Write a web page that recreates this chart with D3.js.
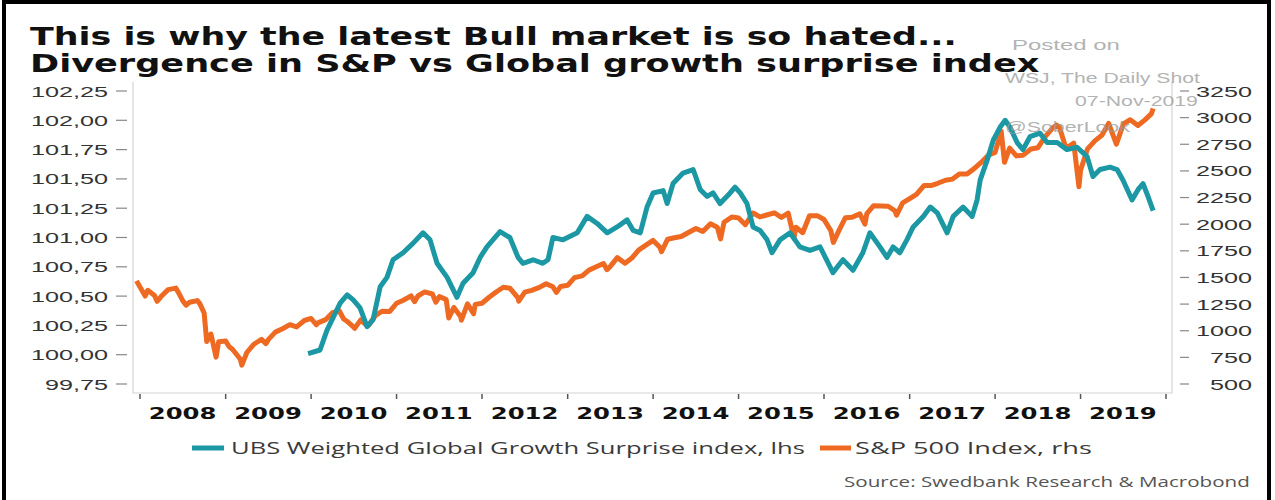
<!DOCTYPE html>
<html>
<head>
<meta charset="utf-8">
<script src="https://cdn.jsdelivr.net/npm/d3@7"></script>
<style>
  body { margin: 0; background: #fff; }
  svg { display: block; }
</style>
</head>
<body>
<svg id="chart" width="1275" height="500"></svg>
<script>
// ---- data ----
const years = [2008, 2009, 2010, 2011, 2012, 2013, 2014, 2015, 2016, 2017, 2018, 2019];
const leftTicks = [99.75, 100, 100.25, 100.5, 100.75, 101, 101.25, 101.5, 101.75, 102, 102.25];
const rightTicks = [500, 750, 1000, 1250, 1500, 1750, 2000, 2250, 2500, 2750, 3000, 3250];

// UBS weighted global growth surprise index (lhs), decimal years
const tealYears = [2009.965, 2010.105, 2010.187, 2010.339, 2010.421, 2010.491, 2010.573, 2010.655, 2010.725, 2010.807,
  2010.889, 2010.959, 2011.076, 2011.193, 2011.310, 2011.392, 2011.474, 2011.591, 2011.708, 2011.778,
  2011.895, 2011.977, 2012.058, 2012.211, 2012.327, 2012.421, 2012.480, 2012.596, 2012.713, 2012.772,
  2012.830, 2012.947, 2013.111, 2013.228, 2013.345, 2013.462, 2013.579, 2013.696, 2013.766, 2013.848,
  2013.930, 2014.000, 2014.117, 2014.164, 2014.234, 2014.351, 2014.468, 2014.550, 2014.632, 2014.702,
  2014.784, 2014.901, 2014.959, 2015.018, 2015.099, 2015.170, 2015.251, 2015.333, 2015.392, 2015.485,
  2015.602, 2015.719, 2015.836, 2015.953, 2016.070, 2016.105, 2016.222, 2016.339, 2016.456, 2016.538,
  2016.655, 2016.737, 2016.807, 2016.889, 2016.971, 2017.041, 2017.158, 2017.240, 2017.322, 2017.439,
  2017.509, 2017.626, 2017.731, 2017.789, 2017.825, 2017.906, 2017.977, 2018.058, 2018.117, 2018.175,
  2018.257, 2018.327, 2018.409, 2018.526, 2018.608, 2018.725, 2018.842, 2018.959, 2019.076, 2019.146,
  2019.228, 2019.345, 2019.427, 2019.497, 2019.602, 2019.673, 2019.731, 2019.789, 2019.848];
const tealValues = [100.01, 100.04, 100.21, 100.44, 100.51, 100.47, 100.40, 100.24, 100.30, 100.58,
  100.66, 100.81, 100.87, 100.95, 101.04, 100.98, 100.78, 100.66, 100.49, 100.61,
  100.70, 100.83, 100.92, 101.05, 101.00, 100.83, 100.78, 100.81, 100.78, 100.81,
  101.00, 100.98, 101.04, 101.18, 101.12, 101.04, 101.09, 101.15, 101.06, 101.04,
  101.26, 101.38, 101.40, 101.29, 101.46, 101.55, 101.58, 101.41, 101.35, 101.38,
  101.29, 101.38, 101.43, 101.38, 101.29, 101.09, 101.06, 100.98, 100.87, 100.98,
  101.04, 100.92, 100.89, 100.92, 100.75, 100.70, 100.81, 100.72, 100.87, 101.04,
  100.92, 100.83, 100.92, 100.87, 100.98, 101.09, 101.18, 101.26, 101.21, 101.04,
  101.18, 101.26, 101.18, 101.32, 101.49, 101.66, 101.83, 101.94, 102.00, 101.94,
  101.81, 101.75, 101.86, 101.89, 101.81, 101.81, 101.75, 101.77, 101.69, 101.52,
  101.58, 101.60, 101.58, 101.49, 101.32, 101.41, 101.46, 101.35, 101.23];

// S&P 500 index (rhs), decimal years
const spxYears = [2007.96, 2008.06, 2008.09, 2008.17, 2008.20, 2008.25, 2008.33, 2008.42, 2008.45, 2008.50,
  2008.54, 2008.58, 2008.67, 2008.70, 2008.75, 2008.78, 2008.83, 2008.89, 2008.92, 2009.00,
  2009.04, 2009.08, 2009.17, 2009.19, 2009.25, 2009.33, 2009.42, 2009.47, 2009.50, 2009.58,
  2009.67, 2009.75, 2009.83, 2009.92, 2010.00, 2010.06, 2010.08, 2010.17, 2010.25, 2010.33,
  2010.38, 2010.42, 2010.50, 2010.51, 2010.58, 2010.65, 2010.67, 2010.75, 2010.83, 2010.92,
  2011.00, 2011.08, 2011.17, 2011.21, 2011.25, 2011.33, 2011.42, 2011.46, 2011.50, 2011.58,
  2011.61, 2011.67, 2011.75, 2011.76, 2011.83, 2011.90, 2011.92, 2012.00, 2012.08, 2012.17,
  2012.25, 2012.33, 2012.42, 2012.43, 2012.50, 2012.58, 2012.67, 2012.75, 2012.83, 2012.87,
  2012.92, 2013.00, 2013.08, 2013.17, 2013.25, 2013.33, 2013.42, 2013.46, 2013.50, 2013.58,
  2013.67, 2013.75, 2013.83, 2013.92, 2014.00, 2014.08, 2014.10, 2014.17, 2014.25, 2014.33,
  2014.42, 2014.50, 2014.58, 2014.67, 2014.75, 2014.79, 2014.83, 2014.92, 2015.00, 2015.08,
  2015.17, 2015.25, 2015.33, 2015.42, 2015.50, 2015.58, 2015.65, 2015.67, 2015.75, 2015.83,
  2015.92, 2016.00, 2016.08, 2016.11, 2016.17, 2016.25, 2016.33, 2016.42, 2016.48, 2016.50,
  2016.58, 2016.67, 2016.75, 2016.83, 2016.85, 2016.92, 2017.00, 2017.08, 2017.17, 2017.25,
  2017.33, 2017.42, 2017.50, 2017.58, 2017.67, 2017.75, 2017.83, 2017.92, 2018.00, 2018.07,
  2018.11, 2018.17, 2018.25, 2018.33, 2018.42, 2018.50, 2018.58, 2018.67, 2018.72, 2018.75,
  2018.83, 2018.92, 2018.98, 2019.00, 2019.08, 2019.17, 2019.25, 2019.33, 2019.42, 2019.50,
  2019.58, 2019.67, 2019.75, 2019.83, 2019.85];
const spxValues = [1468, 1325, 1379, 1331, 1276, 1323, 1386, 1400, 1360, 1280,
  1240, 1267, 1283, 1252, 1166, 899, 969, 752, 896, 903,
  850, 826, 735, 677, 798, 873, 919, 879, 919, 987,
  1021, 1057, 1036, 1096, 1115, 1056, 1074, 1104, 1169, 1187,
  1110, 1089, 1031, 1022, 1102, 1050, 1049, 1141, 1183, 1181,
  1258, 1286, 1327, 1273, 1326, 1364, 1345, 1268, 1321, 1292,
  1120, 1219, 1131, 1099, 1253, 1159, 1247, 1258, 1312, 1366,
  1408, 1398, 1310, 1278, 1362, 1379, 1407, 1441, 1412, 1360,
  1416, 1426, 1498, 1515, 1569, 1598, 1631, 1573, 1606, 1686,
  1633, 1682, 1757, 1806, 1848, 1783, 1741, 1859, 1872, 1884,
  1924, 1960, 1931, 2003, 1972, 1862, 2018, 2068, 2059, 1995,
  2105, 2068, 2086, 2107, 2063, 2104, 1867, 1972, 1920, 2079,
  2080, 2044, 1940, 1829, 1932, 2060, 2065, 2097, 2000, 2099,
  2174, 2171, 2168, 2126, 2085, 2199, 2239, 2279, 2364, 2363,
  2384, 2412, 2423, 2470, 2472, 2519, 2575, 2648, 2674, 2872,
  2581, 2714, 2641, 2648, 2705, 2718, 2816, 2902, 2930, 2914,
  2712, 2760, 2351, 2507, 2704, 2784, 2834, 2946, 2752, 2942,
  2980, 2926, 2977, 3038, 3085];

const seriesNames = ["UBS Weighted Global Growth Surprise index, lhs", "S&P 500 Index, rhs"];
const tealColor = "#1b98a3";
const orangeColor = "#ee6a22";

// ---- helpers ----
function toDate(y) {
  const yr = Math.floor(y);
  return new Date(yr, 0, 1 + Math.round((y - yr) * 365));
}
// horizontally stretched text (the source picture is stretched)
function stretch(sel, x, y, sx) {
  sel.attr("x", 0).attr("y", 0).attr("transform", `translate(${x},${y}) scale(${sx},1)`);
  return sel;
}
function fit(sel, x, y, w) {
  const len = sel.node().getComputedTextLength();
  return stretch(sel, x, y, w / len);
}

const svg = d3.select("#chart");
const plot = { left: 133, right: 1172, top: 82, bottom: 393 };

const x = d3.scaleTime()
  .domain([new Date(2008, 0, 1), new Date(2020, 0, 1)])
  .range([140, 1166]);
const yL = d3.scaleLinear().domain([99.75, 102.25]).range([384, 91]);
const yR = d3.scaleLinear().domain([500, 3250]).range([384, 91]);

// outer frame
svg.append("rect")
  .attr("x", 4).attr("y", 2).attr("width", 1265).attr("height", 510)
  .attr("fill", "none").attr("stroke", "#000").attr("stroke-width", 4);

// title
const title = svg.append("g")
  .style("font-family", "'DejaVu Sans', Verdana, sans-serif")
  .style("font-weight", "bold").style("font-size", "25px").attr("fill", "#111");
fit(title.append("text").text("This is why the latest Bull market is so hated..."), 30, 45, 927);
fit(title.append("text").text("Divergence in S&P vs Global growth surprise index"), 30, 72, 1010);

// plot frame
svg.append("path")
  .attr("d", `M${plot.left},${plot.top}V${plot.bottom}H${plot.right}V${plot.top}`)
  .attr("fill", "none").attr("stroke", "#d4d4d4").attr("stroke-width", 1.2);

// left axis
const fmtL = v => d3.format(".2f")(v).replace(".", ",");
const left = svg.append("g")
  .style("font-family", "'Liberation Sans', Arial, sans-serif").style("font-size", "15px");
leftTicks.forEach(v => {
  left.append("line").attr("x1", 116).attr("x2", 127).attr("y1", yL(v)).attr("y2", yL(v))
    .attr("stroke", "#888").attr("stroke-width", 1.2);
  stretch(left.append("text").text(fmtL(v)).attr("text-anchor", "end").attr("fill", "#333"),
    108, yL(v) + 5.5, 1.68);
});

// right axis
const right = svg.append("g")
  .style("font-family", "'Liberation Sans', Arial, sans-serif").style("font-size", "15px");
rightTicks.forEach(v => {
  right.append("line").attr("x1", 1180).attr("x2", 1189).attr("y1", yR(v)).attr("y2", yR(v))
    .attr("stroke", "#888").attr("stroke-width", 1.2);
  stretch(right.append("text").text(v).attr("text-anchor", "end").attr("fill", "#333"),
    1252, yR(v) + 5.5, 1.68);
});

// x axis: ticks at year boundaries, labels between them
const xTicks = d3.range(years[0], years[years.length - 1] + 2).map(y => new Date(y, 0, 1));
svg.append("g").selectAll("line").data(xTicks).join("line")
  .attr("x1", d => x(d)).attr("x2", d => x(d))
  .attr("y1", plot.bottom + 1).attr("y2", plot.bottom + 6)
  .attr("stroke", "#555").attr("stroke-width", 1.5);
const xl = svg.append("g")
  .style("font-family", "'DejaVu Sans', Verdana, sans-serif")
  .style("font-weight", "bold").style("font-size", "16px");
years.forEach(yr => {
  stretch(xl.append("text").text(yr).attr("text-anchor", "middle").attr("fill", "#111"),
    x(new Date(yr, 6, 1)), 419, 1.52);
});

// lines
const spx = spxYears.map((d, i) => [toDate(d), spxValues[i]]);
const teal = tealYears.map((d, i) => [toDate(d), tealValues[i]]);

svg.append("path").datum(spx)
  .attr("d", d3.line().x(d => x(d[0])).y(d => yR(d[1])))
  .attr("fill", "none").attr("stroke", orangeColor).attr("stroke-width", 5)
  .attr("stroke-linejoin", "round");
svg.append("path").datum(teal)
  .attr("d", d3.line().x(d => x(d[0])).y(d => yL(d[1])))
  .attr("fill", "none").attr("stroke", tealColor).attr("stroke-width", 5)
  .attr("stroke-linejoin", "round");

// watermark
const wm = svg.append("g")
  .style("font-family", "'Liberation Sans', Arial, sans-serif").style("font-size", "14px")
  .attr("fill", "#9a9a9a").attr("opacity", 0.75);
fit(wm.append("text").text("Posted on"), 1012, 50, 108);
fit(wm.append("text").text("WSJ, The Daily Shot"), 1005, 83, 195);
fit(wm.append("text").text("07-Nov-2019"), 1075, 106, 123);
fit(wm.append("text").text("@SoberLook"), 1005, 132, 125);

// legend
const leg = svg.append("g")
  .style("font-family", "'Open Sans', 'Noto Sans', sans-serif").style("font-size", "17px")
  .attr("fill", "#3a3a3a");
leg.append("line").attr("x1", 192).attr("x2", 224).attr("y1", 448).attr("y2", 448)
  .attr("stroke", tealColor).attr("stroke-width", 5);
fit(leg.append("text").text(seriesNames[0]), 231, 454, 574);
leg.append("line").attr("x1", 820).attr("x2", 851).attr("y1", 448).attr("y2", 448)
  .attr("stroke", orangeColor).attr("stroke-width", 5);
fit(leg.append("text").text(seriesNames[1]), 855, 454, 237);

// source
const src = svg.append("text").text("Source: Swedbank Research & Macrobond")
  .style("font-family", "'Open Sans', 'Noto Sans', sans-serif").style("font-size", "14px")
  .attr("fill", "#555");
fit(src, 844, 487, 406);
</script>
</body>
</html>
